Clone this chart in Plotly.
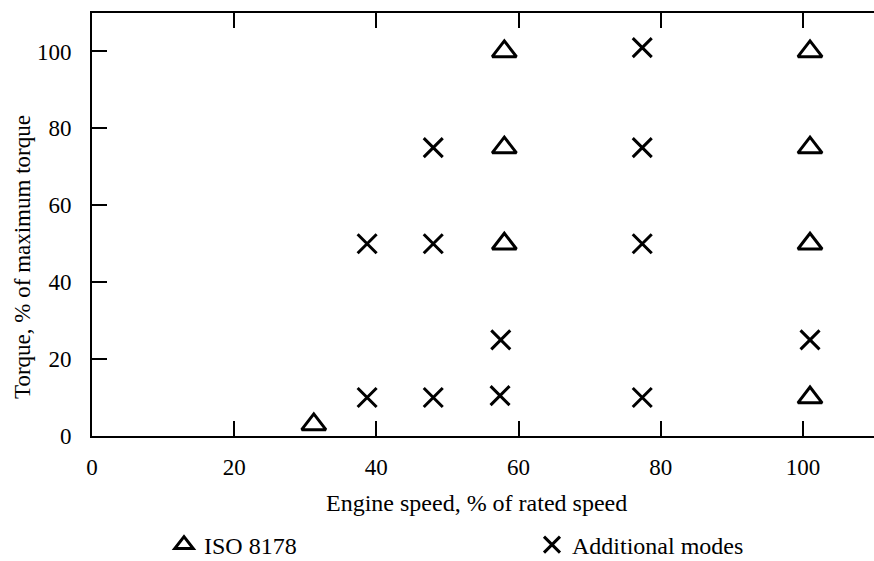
import plotly.graph_objects as go

# ---- data ----
iso_speed = [31.2, 58, 58, 58, 101, 101, 101, 101]
iso_torque = [3, 100, 75, 50, 100, 75, 50, 10]

add_speed = [38.7, 48, 57.4, 77.4, 38.7, 48, 77.4, 48, 77.4, 77.4, 57.5, 101]
add_torque = [10, 10, 10.5, 10, 50, 50, 50, 75, 75, 101, 25, 25]

x_ticks = [0, 20, 40, 60, 80, 100]
y_ticks = [0, 20, 40, 60, 80, 100]

x_title = "Engine speed, % of rated speed"
y_title = "Torque, % of maximum torque"
iso_name = "ISO 8178"
add_name = "Additional modes"

W, H = 874, 561
ML, MR, MT, MB = 92, 0, 13, 125
SERIF = "Liberation Serif, Times New Roman, serif"
FS = 23


def px_to_paper(px, py):
    pw = W - ML - MR
    ph = H - MT - MB
    return (px - ML) / pw, (H - MB - py) / ph


fig = go.Figure()

fig.add_trace(go.Scatter(
    x=iso_speed, y=iso_torque, mode="markers",
    marker=dict(symbol="triangle-up-open", size=21, color="black",
                line=dict(width=3, color="black")),
    name=iso_name, legend="legend", cliponaxis=False,
))

fig.add_trace(go.Scatter(
    x=add_speed, y=add_torque, mode="markers",
    marker=dict(symbol="x-thin-open", size=19, color="black",
                line=dict(width=3, color="black")),
    name=add_name, legend="legend2", cliponaxis=False,
))

legend_font = dict(family=SERIF, size=24, color="black")
_, leg_y = px_to_paper(0, 545)

fig.update_layout(
    width=W, height=H,
    margin=dict(l=ML, r=MR, t=MT, b=MB, pad=0, autoexpand=False),
    paper_bgcolor="white", plot_bgcolor="white",
    showlegend=True,
    legend=dict(x=164 / W, y=leg_y, xref="container", yref="paper",
                xanchor="left", yanchor="middle",
                font=legend_font, bgcolor="rgba(0,0,0,0)", borderwidth=0),
    legend2=dict(x=532 / W, y=leg_y, xref="container", yref="paper",
                 xanchor="left", yanchor="middle",
                 font=legend_font, bgcolor="rgba(0,0,0,0)", borderwidth=0),
    xaxis=dict(range=[0, 110], tickmode="array", tickvals=x_ticks,
               ticks="inside", ticklen=15, tickwidth=2, tickcolor="black",
               showgrid=False, zeroline=False,
               tickfont=dict(family=SERIF, size=FS, color="black"),
               showline=True, linewidth=2, linecolor="black",
               mirror="ticks", ticklabelstandoff=9, automargin=False),
    yaxis=dict(range=[0, 110], tickmode="array", tickvals=y_ticks,
               ticks="inside", ticklen=15, tickwidth=2, tickcolor="black",
               showgrid=False, zeroline=False, showline=True, linewidth=2,
               linecolor="black", ticklabelstandoff=14, automargin=False,
               tickfont=dict(family=SERIF, size=FS, color="black")),
    yaxis2=dict(range=[0, 110], overlaying="y", side="right", anchor="x",
                tickmode="array", tickvals=y_ticks, ticks="inside", ticklen=15,
                tickwidth=2, tickcolor="black", showticklabels=False,
                showgrid=False, zeroline=False, showline=False, automargin=False),
)

annotations = []
tx, ty = px_to_paper(476, 503)
annotations.append(dict(x=tx, y=ty, xref="paper", yref="paper", text=x_title,
                        showarrow=False, xanchor="center", yanchor="middle",
                        font=dict(family=SERIF, size=24, color="black")))
tx, ty = px_to_paper(22, 257)
annotations.append(dict(x=tx, y=ty, xref="paper", yref="paper", text=y_title,
                        showarrow=False, textangle=-90, xanchor="center", yanchor="middle",
                        font=dict(family=SERIF, size=FS, color="black")))
fig.update_layout(annotations=annotations)

fig.write_html("out.html")
